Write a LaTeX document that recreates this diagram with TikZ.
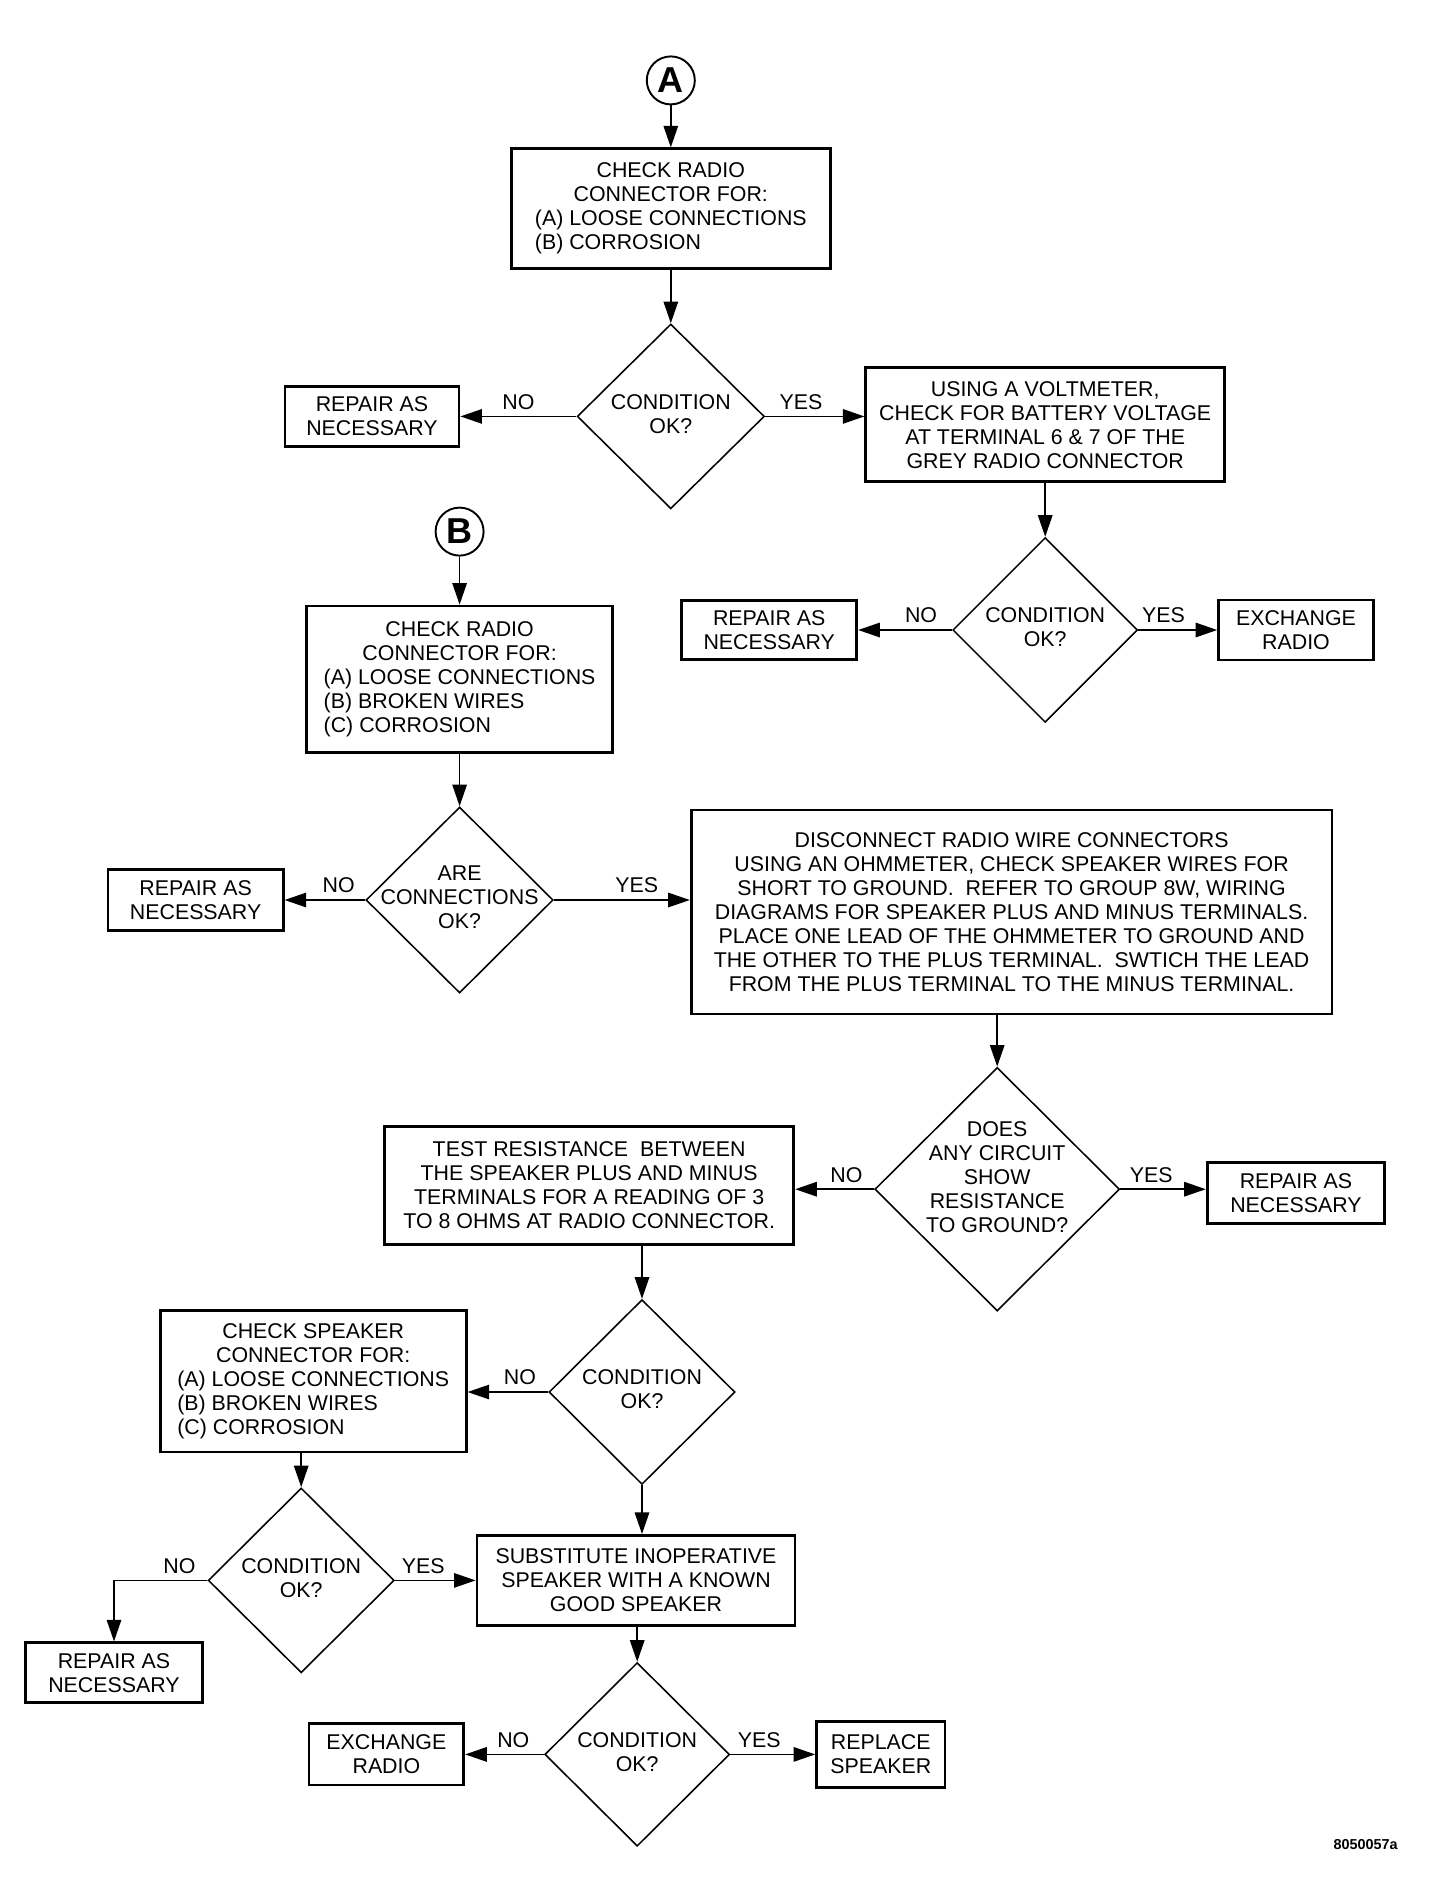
\documentclass[tikz,border=0pt]{standalone}
\usepackage{fontspec}
\setmainfont{Liberation Sans}
\usetikzlibrary{shapes.geometric,arrows.meta}
% text of a decision: no size of its own, so the diamond keeps its size
\newcommand{\dtext}[2][-.25em]{\smash{\makebox[0pt]{\raisebox{#1}{\begin{tabular}{@{}c@{}}#2\end{tabular}}}}}
\newcommand{\ctr}[1]{\multicolumn{1}{@{}c@{}}{#1}}

\begin{document}
\begin{tikzpicture}[x=0.5pt, y=-0.5pt,
  every node/.style = {font=\fontsize{8.9}{10}\selectfont},
  stepbox/.style = {draw, line width=1.15pt, inner sep=0pt, align=center},
  decision/.style = {diamond, draw, line width=0.65pt, inner sep=0pt},
  entry/.style = {circle, draw, line width=0.8pt, minimum size=20pt, inner sep=0pt, font=\bfseries\fontsize{15}{15}\selectfont},
  flow/.style = {-{Triangle[length=9pt,width=6pt]}, line width=0.7pt},
  lbl/.style = {above=1.5pt, inner sep=1pt}]
  \useasboundingbox (0,0) rectangle (1213,1565);

  % upper part, from A
  \node[entry] (entA) at (559,67) {A};
  \node[stepbox, minimum width=133pt, minimum height=50pt] (chkA) at (559,174)
    {\begin{tabular}{@{}l@{}}\ctr{CHECK RADIO}\\ \ctr{CONNECTOR FOR:}\\ (A) LOOSE CONNECTIONS\\ (B) CORROSION\end{tabular}};
  \node[decision, minimum width=78pt, minimum height=77pt] (condA) at (559,347) {\dtext{CONDITION\\ OK?}};
  \node[stepbox, minimum width=72.5pt, minimum height=25pt] (repA) at (310,347) {REPAIR AS\\ NECESSARY};
  \node[stepbox, minimum width=149.5pt, minimum height=47.5pt] (volt) at (871,354)
    {USING A VOLTMETER,\\ CHECK FOR BATTERY VOLTAGE\\ AT TERMINAL 6 \& 7 OF THE\\ GREY RADIO CONNECTOR};
  \node[decision, minimum width=77pt, minimum height=77pt] (condV) at (871,525) {\dtext{CONDITION\\ OK?}};
  \node[stepbox, minimum width=73pt, minimum height=24.5pt] (repB) at (641,525) {REPAIR AS\\ NECESSARY};
  \node[stepbox, minimum width=64.5pt, minimum height=25pt] (exchA) at (1080,525) {EXCHANGE\\ RADIO};

  % lower part, from B
  \node[entry] (entB) at (383,443) {B};
  \node[stepbox, minimum width=127.5pt, minimum height=61pt] (chkB) at (383,566)
    {\begin{tabular}{@{}l@{}}\ctr{CHECK RADIO}\\ \ctr{CONNECTOR FOR:}\\ (A) LOOSE CONNECTIONS\\ (B) BROKEN WIRES\\ (C) CORROSION\end{tabular}};
  \node[decision, minimum width=78pt, minimum height=77.5pt] (condB) at (383,750) {\dtext{ARE\\ CONNECTIONS\\ OK?}};
  \node[stepbox, minimum width=73pt, minimum height=25.5pt] (repC) at (163,750) {REPAIR AS\\ NECESSARY};
  \node[stepbox, minimum width=267pt, minimum height=85pt] (disc) at (843,760)
    {DISCONNECT RADIO WIRE CONNECTORS\\ USING AN OHMMETER, CHECK SPEAKER WIRES FOR\\
     SHORT TO GROUND.\ \ REFER TO GROUP 8W, WIRING\\ DIAGRAMS FOR SPEAKER PLUS AND MINUS TERMINALS.\\
     PLACE ONE LEAD OF THE OHMMETER TO GROUND AND\\ THE OTHER TO THE PLUS TERMINAL.\ \ SWTICH THE LEAD\\
     FROM THE PLUS TERMINAL TO THE MINUS TERMINAL.};
  \node[decision, minimum width=102pt, minimum height=101.5pt] (short) at (831,991)
    {\dtext[.2em]{DOES\\ ANY CIRCUIT\\ SHOW\\ RESISTANCE\\ TO GROUND?}};
  \node[stepbox, minimum width=170.5pt, minimum height=49pt] (test) at (491,988)
    {TEST RESISTANCE\ \ BETWEEN\\ THE SPEAKER PLUS AND MINUS\\ TERMINALS FOR A READING OF 3\\ TO 8 OHMS AT RADIO CONNECTOR.};
  \node[stepbox, minimum width=74pt, minimum height=25.5pt] (repD) at (1080,994) {REPAIR AS\\ NECESSARY};
  \node[decision, minimum width=77.5pt, minimum height=77pt] (condT) at (535,1160) {\dtext{CONDITION\\ OK?}};
  \node[stepbox, minimum width=127.5pt, minimum height=59pt] (chkS) at (261,1151)
    {\begin{tabular}{@{}l@{}}\ctr{CHECK SPEAKER}\\ \ctr{CONNECTOR FOR:}\\ (A) LOOSE CONNECTIONS\\ (B) BROKEN WIRES\\ (C) CORROSION\end{tabular}};
  \node[decision, minimum width=77.5pt, minimum height=77pt] (condS) at (251,1317) {\dtext{CONDITION\\ OK?}};
  \node[stepbox, minimum width=73.5pt, minimum height=25pt] (repE) at (95,1394) {REPAIR AS\\ NECESSARY};
  \node[stepbox, minimum width=132.5pt, minimum height=37.5pt] (subst) at (530,1317)
    {SUBSTITUTE INOPERATIVE\\ SPEAKER WITH A KNOWN\\ GOOD SPEAKER};
  \node[decision, minimum width=77pt, minimum height=76.5pt] (condG) at (531,1462) {\dtext{CONDITION\\ OK?}};
  \node[stepbox, minimum width=64.5pt, minimum height=25.5pt] (exchB) at (322,1462) {EXCHANGE\\ RADIO};
  \node[stepbox, minimum width=53.5pt, minimum height=27.5pt] (repl) at (734,1462) {REPLACE\\ SPEAKER};
  \node[font=\bfseries\fontsize{6}{6}\selectfont] (figno) at (1138,1537) {8050057a};

  % connectors
  \draw[flow] (entA) -- (chkA);
  \draw[flow] (chkA) -- (condA);
  \draw[flow] (condA.west) -- node[lbl, pos=.5]{NO} (repA);
  \draw[flow] (condA.east) -- node[lbl, pos=.36]{YES} (condA.east -| volt.west);
  \draw[flow] (volt) -- (condV);
  \draw[flow] (condV.west) -- node[lbl, pos=.33]{NO} (repB);
  \draw[flow] (condV.east) -- node[lbl, pos=.32]{YES} (exchA);
  \draw[flow] (entB) -- (chkB);
  \draw[flow] (chkB) -- (condB);
  \draw[flow] (condB.west) -- node[lbl, pos=.33]{NO} (repC);
  \draw[flow] (condB.east) -- node[lbl, pos=.61]{YES} (condB.east -| disc.west);
  \draw[flow] (disc.south -| short.north) -- (short.north);
  \draw[flow] (short.west) -- node[lbl, pos=.35]{NO} (short.west -| test.east);
  \draw[flow] (short.east) -- node[lbl, pos=.36]{YES} (short.east -| repD.west);
  \draw[flow] (test.south -| condT.north) -- (condT.north);
  \draw[flow] (condT.west) -- node[lbl, pos=.35]{NO} (condT.west -| chkS.east);
  \draw[flow] (chkS.south -| condS.north) -- (condS.north);
  \draw[flow] (condS.west) -| node[lbl, pos=.15]{NO} (repE.north);
  \draw[flow] (condS.east) -- node[lbl, pos=.35]{YES} (subst);
  \draw[flow] (condT.south) -- (condT.south |- subst.north);
  \draw[flow] (subst.south -| condG.north) -- (condG.north);
  \draw[flow] (condG.west) -- node[lbl, pos=.39]{NO} (exchB);
  \draw[flow] (condG.east) -- node[lbl, pos=.34]{YES} (repl);
\end{tikzpicture}
\end{document}
